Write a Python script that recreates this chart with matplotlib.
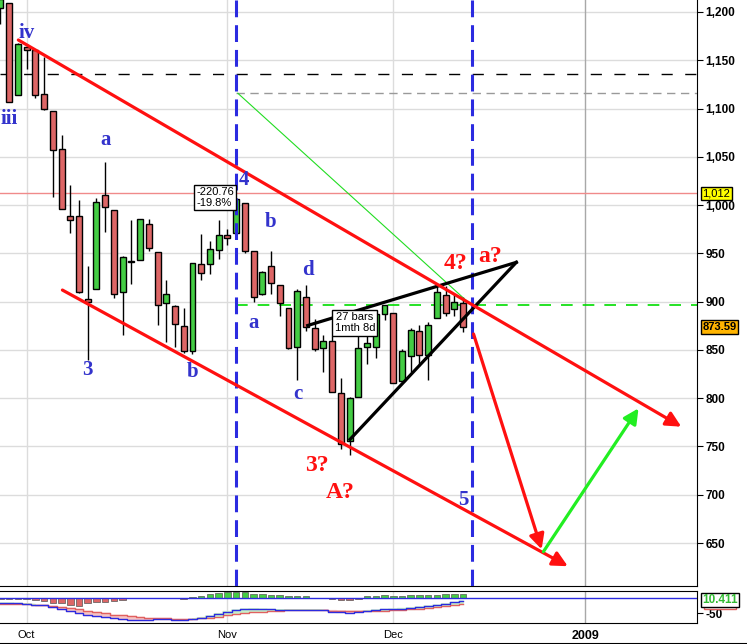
import matplotlib
matplotlib.use('Agg')
import matplotlib.pyplot as plt
from matplotlib.lines import Line2D

# daily bars Sep 26 2008 .. Dec 11 2008, x = trading-day index
opens = [1204.5, 1209.1, 1113.8, 1164.2, 1160.6, 1115.2, 1097.6, 1057.6, 988.9, 988.4,
         902.3, 912.8, 1010.0, 994.6, 909.5, 942.3, 943.5, 980.4, 951.7, 899.1,
         895.2, 874.3, 848.9, 939.5, 939.4, 953.1, 968.7, 971.3, 1001.8, 952.4,
         907.4, 936.8, 917.2, 893.4, 853.1, 904.4, 873.2, 852.3, 859.0, 805.9,
         755.8, 801.2, 853.4, 852.9, 886.9, 888.6, 817.9, 843.6, 869.8, 844.4,
         882.7, 906.5, 892.2, 898.4]
highs = [1215.8, 1209.1, 1168.0, 1167.0, 1160.6, 1153.8, 1097.6, 1072.9, 1021.1, 1005.3,
         936.4, 1006.9, 1044.3, 994.6, 947.7, 984.6, 985.4, 985.4, 951.7, 922.8,
         896.3, 893.8, 940.5, 970.0, 963.2, 984.4, 975.6, 1007.5, 1001.8, 952.4,
         931.5, 952.0, 917.2, 893.4, 913.0, 916.9, 882.3, 865.9, 864.6, 820.5,
         801.2, 865.6, 868.9, 887.7, 896.3, 888.6, 850.5, 873.1, 875.6, 879.4,
         918.6, 916.3, 908.3, 904.6]
lows = [1187.5, 1106.4, 1113.8, 1140.8, 1111.4, 1098.1, 1008.0, 996.2, 971.0, 909.2,
        839.8, 912.8, 972.1, 904.0, 865.8, 918.7, 943.5, 952.5, 875.8, 858.4,
        852.9, 846.8, 845.3, 922.3, 928.5, 944.6, 958.8, 971.3, 949.9, 899.7,
        906.9, 907.5, 884.9, 850.5, 818.7, 869.9, 849.0, 826.8, 806.2, 747.8,
        741.0, 801.2, 835.0, 841.4, 881.2, 815.7, 817.9, 827.6, 833.6, 818.4,
        882.7, 885.4, 885.5, 868.7]
closes = [1213.3, 1106.4, 1166.4, 1161.1, 1114.3, 1099.2, 1056.9, 996.2, 984.9, 909.9,
          899.2, 1003.4, 998.0, 907.8, 946.4, 940.6, 985.4, 955.1, 896.8, 908.1,
          876.8, 848.9, 940.5, 930.1, 954.1, 968.8, 966.3, 1005.8, 952.8, 904.9,
          931.0, 919.2, 899.0, 852.3, 911.3, 873.3, 850.8, 859.1, 806.6, 752.4,
          800.0, 851.8, 857.4, 887.7, 896.2, 816.2, 848.8, 870.7, 845.2, 876.1,
          909.7, 888.7, 899.2, 873.6]

# indicator panel (histogram + two signal lines)
hist = [-3, -3, -3, -5, -8, -11, -17, -17, -22, -28, -17, -13, -13, -11, -8,
        0, 0, 0, 0, 0, 0, -3,
        3, 8, 12, 17, 20, 21, 21, 14, 14, 11, 11, 8, 8, 5,
        0, 0, -5, -8, -8, -5,
        5, 8, 11, 8, 8, 11, 11, 11, 11, 14, 14, 14]
fast = [-17, -17, -18, -20, -22, -25, -30, -36, -42, -50, -56, -60, -63, -66, -70,
        -72, -72, -72, -71, -71, -72, -72, -70, -65, -60, -52, -45, -40, -37, -36,
        -37, -38, -39, -39, -39, -39, -39, -41, -45, -48, -50, -47, -42, -40, -38,
        -37, -35, -33, -30, -27, -24, -20, -15, -11]
slow = [-19, -19, -20, -21, -22, -24, -27, -30, -34, -38, -43, -47, -51, -55, -58,
        -61, -63, -65, -66, -68, -69, -70, -70, -68, -66, -62, -58, -53, -50, -47,
        -45, -43, -42, -41, -41, -41, -41, -41, -42, -43, -44, -44, -44, -43, -42,
        -41, -40, -38, -36, -33, -30, -27, -23, -19]

month_pos = [3, 26, 45, 67]
month_labels = ['Oct', 'Nov', 'Dec', '2009']
price_ticks = [650, 700, 750, 800, 850, 900, 950, 1000, 1050, 1100, 1150, 1200]

# drawn lines (x index, price)
upper_chan = [(2.05, 1171), (78.0, 770.5)]
lower_chan = [(7.1, 912), (65.0, 626)]
down_arrow = [(54.2, 866.5), (62.0, 643.5)]
up_arrow = [(62.2, 641), (73.1, 789.5)]
wedge_low = [(40.05, 757.4), (59.1, 940.7)]
wedge_high = [(35.2, 875.3), (59.1, 940.7)]
thin_green = [(27.2, 1115.8), (53.55, 899.6)]
vlines_blue = [27.0, 54.0]

blue_labels = [('iv', 3.05, 1178), ('iii', 1.0, 1089), ('a', 12.0, 1067), ('3', 9.95, 829),
               ('b', 22.0, 827), ('4', 27.9, 1026), ('b', 31.0, 983), ('d', 35.2, 933),
               ('a', 29.0, 878), ('c', 34.1, 804), ('5', 53.0, 695)]
red_labels = [('4?', 52.1, 940), ('a?', 56.1, 947), ('3?', 36.3, 730), ('A?', 38.9, 702)]

fig = plt.figure(figsize=(7.47, 6.44), dpi=100)
ax = fig.add_axes([0, 58 / 644, 697 / 747, 586 / 644])
axp = fig.add_axes([0, 21 / 644, 697 / 747, 32 / 644], sharex=ax)

ax.set_xlim(-0.05, 79.8)
ax.set_ylim(605.5, 1212.4)

# grid
for p in price_ticks:
    ax.axhline(p, color='#dcdcdc', lw=1, zorder=0)
for i, m in enumerate(month_pos):
    c = '#a8a8a8' if i == 3 else '#dcdcdc'
    ax.axvline(m, color=c, lw=1, zorder=0)
    axp.axvline(m, color=c, lw=1, zorder=0)

# reference levels
ax.axhline(1136, color='black', lw=1, dashes=(8, 9), zorder=1)
ax.axhline(1012, color='#f08a8a', lw=1, zorder=1)
ax.plot([27.0, 79.8], [1116, 1116], color='#999999', lw=1, dashes=(6, 4), zorder=1)
ax.plot([27.0, 79.8], [896.2, 896.2], color='#00dd00', lw=1.2, dashes=(7, 6), zorder=1)

# candles
for i in range(len(opens)):
    o, h, l, c = opens[i], highs[i], lows[i], closes[i]
    col = '#44cc44' if c >= o else '#dd6666'
    ax.vlines(i, l, h, color='black', lw=1, zorder=2)
    ax.bar(i, max(abs(c - o), 1.5), bottom=min(o, c), width=0.68, color=col,
           edgecolor='black', lw=1, zorder=3)

# blue dashed verticals
for v in vlines_blue:
    ax.axvline(v, color='#2b2be0', lw=2.2, dashes=(5.5, 2.6), zorder=4)

# trend lines
ax.plot(*zip(*thin_green), color='#22dd22', lw=0.8, zorder=4)
ax.plot(*zip(*wedge_low), color='black', lw=2.3, zorder=5)
ax.plot(*zip(*wedge_high), color='black', lw=2.3, zorder=5)

arrow_style = '-|>,head_length=0.6,head_width=0.3'
for seg, col in [(upper_chan, '#ff1010'), (lower_chan, '#ff1010'),
                 (down_arrow, '#ff1010'), (up_arrow, '#22ee22')]:
    ax.annotate('', xy=seg[1], xytext=seg[0], zorder=6,
                arrowprops=dict(arrowstyle=arrow_style, color=col, lw=2.3,
                                mutation_scale=15, shrinkA=0, shrinkB=0))

for t, x, y in blue_labels:
    ax.text(x, y, t, color='#3333cc', fontsize=15, fontweight='bold',
            family='Liberation Serif', ha='center', va='center', zorder=7)
for t, x, y in red_labels:
    ax.text(x, y, t, color='#ff1010', fontsize=17, fontweight='bold',
            family='Liberation Serif', ha='center', va='center', zorder=7)

box = dict(boxstyle='square,pad=0.2', fc='white', ec='black', lw=1)
ax.text(22.45, 1008, '-220.76\n-19.8%', fontsize=8, family='Liberation Sans',
        ha='left', va='center', bbox=box, zorder=8, linespacing=1.1)
ax.text(40.6, 878, '27 bars\n1mth 8d', fontsize=8, family='Liberation Sans',
        ha='center', va='center', bbox=box, zorder=8, linespacing=1.1)

# right axis
ax.yaxis.tick_right()
ax.set_yticks(price_ticks)
ax.set_yticklabels([f'{p:,}' for p in price_ticks], fontsize=8.5,
                   fontweight='bold', family='Liberation Sans')
ax.tick_params(axis='y', length=4, pad=2, right=True, left=False)
ax.tick_params(axis='x', bottom=False, labelbottom=False)
for s in ['left', 'top']:
    ax.spines[s].set_visible(False)

ytr = ax.get_yaxis_transform()
ax.text(1.008, 1012, '1,012', transform=ytr, fontsize=8, family='Liberation Sans',
        va='center', ha='left', clip_on=False, zorder=10,
        bbox=dict(boxstyle='square,pad=0.15', fc='#ffff00', ec='black', lw=1))
ax.text(1.008, 873.59, '873.59', transform=ytr, fontsize=8, fontweight='bold',
        family='Liberation Sans', va='center', ha='left', clip_on=False, zorder=10,
        bbox=dict(boxstyle='square,pad=0.15', fc='#ffb400', ec='black', lw=1))

# indicator panel
idx = list(range(len(hist)))
axp.set_ylim(-83, 23)
hcols = ['#44cc44' if h > 0 else '#dd6666' for h in hist]
axp.bar(idx, hist, width=0.75, color=hcols, edgecolor='#555555', lw=0.5, zorder=2)
axp.axhline(0, color='#2b2be0', lw=1, zorder=3)
axp.fill_between(idx, fast, slow, where=[f <= s for f, s in zip(fast, slow)],
                 color='#f6c4c4', step='mid', zorder=1, interpolate=True)
axp.fill_between(idx, fast, slow, where=[f > s for f, s in zip(fast, slow)],
                 color='#c8f0c8', step='mid', zorder=1, interpolate=True)
axp.plot(idx, slow, color='#e06060', lw=1, drawstyle='steps-mid', zorder=3)
axp.plot(idx, fast, color='#2b2be0', lw=1, drawstyle='steps-mid', zorder=3)
axp.spines['left'].set_visible(False)
axp.yaxis.tick_right()
axp.set_yticks([-50])
axp.set_yticklabels(['-50'], fontsize=8.5, fontweight='bold', family='Liberation Sans')
axp.tick_params(axis='y', length=4, pad=2)
axp.set_xticks(month_pos)
axp.set_xticklabels(month_labels, fontsize=8, family='Liberation Sans')
axp.get_xticklabels()[3].set_fontweight('bold')
axp.get_xticklabels()[3].set_fontsize(9)
axp.tick_params(axis='x', length=0, pad=5)

ptr = axp.get_yaxis_transform()
axp.text(1.012, -14, '2.075', transform=ptr, fontsize=8.5, fontweight='bold',
         color='#e06060', family='Liberation Sans', va='center', ha='left',
         clip_on=False, bbox=dict(boxstyle='square,pad=0.1', fc='white', ec='#e06060', lw=1))
axp.text(1.008, -6, '10.411', transform=ptr, fontsize=8.5, fontweight='bold',
         color='#33bb33', family='Liberation Sans', va='center', ha='left',
         clip_on=False, bbox=dict(boxstyle='square,pad=0.1', fc='white', ec='black', lw=1))

fig.add_artist(Line2D([0, 1], [0.5 / 644, 0.5 / 644], color='black', lw=1.5))

fig.savefig('out.png', dpi=100)
